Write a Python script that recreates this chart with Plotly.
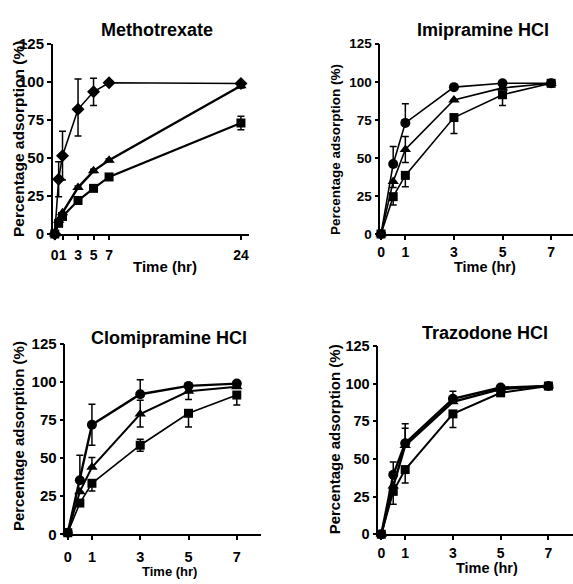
import plotly.graph_objects as go

W, H = 573, 584

# ---------------- data ----------------
t_mtx = [0, 0.5, 1, 3, 5, 7, 24]
mtx_diamond = [0, 36, 51.5, 82, 93.5, 99.5, 99]
mtx_diamond_up = [0, 11.5, 16, 20, 9, 0, 1]
mtx_diamond_dn = [0, 11.5, 16, 17.5, 9, 0, 1]
mtx_triangle = [0, 9, 14, 30.5, 41.5, 48.5, 97.5]
mtx_triangle_up = [0, 0, 0, 1, 1, 1, 1.5]
mtx_triangle_dn = [0, 0, 0, 1, 1, 1, 1.5]
mtx_square = [0, 7, 11.5, 22, 30, 37.5, 73]
mtx_square_up = [0, 0, 0, 0, 0, 0, 4.5]
mtx_square_dn = [0, 0, 0, 0, 0, 0, 4.5]

t_std = [0, 0.5, 1, 3, 5, 7]

imi_circle = [0, 46, 73, 96.5, 99, 99]
imi_circle_up = [0, 11.5, 12.5, 0, 0, 0]
imi_circle_dn = [0, 0, 0, 0, 0, 0]
imi_triangle = [0, 34.5, 55.5, 88, 96, 99]
imi_triangle_up = [0, 0, 8.5, 0, 0, 0]
imi_triangle_dn = [0, 4, 8.5, 0, 0, 0]
imi_square = [0, 24.5, 38.5, 76.5, 91.5, 99]
imi_square_up = [0, 0, 0, 0, 0, 0]
imi_square_dn = [0, 5.5, 7.5, 10.5, 7, 0]

clo_circle = [1, 35.5, 72, 92, 97.5, 99]
clo_circle_up = [0, 16.5, 13.5, 9.5, 0, 0]
clo_circle_dn = [0, 0, 13.5, 0, 0, 0]
clo_triangle = [1, 28, 44, 79, 94, 97]
clo_triangle_up = [0, 0, 6.5, 9, 0, 0]
clo_triangle_dn = [0, 0, 0, 8.5, 5.5, 0]
clo_square = [1, 20.5, 33.5, 58.5, 79.5, 91.5]
clo_square_up = [0, 0, 0, 4, 0, 0]
clo_square_dn = [0, 0, 5, 4, 9, 6.5]

tra_circle = [0, 39.5, 60.5, 90, 97.5, 98.5]
tra_circle_up = [0, 8.5, 13, 5, 0, 0]
tra_circle_dn = [0, 0, 0, 0, 0, 0]
tra_triangle = [0, 32, 59, 88, 96.5, 98.5]
tra_triangle_up = [0, 0, 11.5, 0, 0, 0]
tra_triangle_dn = [0, 0, 0, 0, 0, 0]
tra_square = [0, 28.5, 43, 80, 94, 98.5]
tra_square_up = [0, 0, 0, 0, 0, 0]
tra_square_dn = [0, 8.5, 9, 9, 0, 0]

titles = ["Methotrexate", "Imipramine HCl", "Clomipramine HCl", "Trazodone HCl"]
y_ticks = [0, 25, 50, 75, 100, 125]
x_ticks_mtx = [0, 1, 3, 5, 7, 24]
x_ticks_std = [0, 1, 3, 5, 7]
y_title = "Percentage adsorption (%)"
x_title = "Time (hr)"

FONT = "Liberation Sans, Arial, sans-serif"

fig = go.Figure()


def add(x, y, up, dn, symbol, size, ax, lw=1.6):
    xa, ya = ax
    fig.add_trace(go.Scatter(
        x=x, y=y, mode="lines+markers",
        line=dict(color="black", width=lw),
        marker=dict(symbol=symbol, size=size, color="black"),
        error_y=dict(type="data", symmetric=False, array=up, arrayminus=dn,
                     color="black", thickness=1.5, width=3.5),
        xaxis=xa, yaxis=ya, cliponaxis=False, showlegend=False,
    ))


add(t_mtx, mtx_square, mtx_square_up, mtx_square_dn, "square", 9, ("x", "y"), 2.2)
add(t_mtx, mtx_triangle, mtx_triangle_up, mtx_triangle_dn, "triangle-up", 10, ("x", "y"), 2.4)
add(t_mtx, mtx_diamond, mtx_diamond_up, mtx_diamond_dn, "diamond", 10, ("x", "y"), 1.6)

add(t_std, imi_square, imi_square_up, imi_square_dn, "square", 9, ("x2", "y2"))
add(t_std, imi_triangle, imi_triangle_up, imi_triangle_dn, "triangle-up", 10, ("x2", "y2"))
add(t_std, imi_circle, imi_circle_up, imi_circle_dn, "circle", 10, ("x2", "y2"))

add(t_std, clo_square, clo_square_up, clo_square_dn, "square", 9, ("x3", "y3"))
add(t_std, clo_triangle, clo_triangle_up, clo_triangle_dn, "triangle-up", 10, ("x3", "y3"), 2.0)
add(t_std, clo_circle, clo_circle_up, clo_circle_dn, "circle", 10, ("x3", "y3"), 2.4)

add(t_std, tra_square, tra_square_up, tra_square_dn, "square", 9, ("x4", "y4"), 2.0)
add(t_std, tra_triangle, tra_triangle_up, tra_triangle_dn, "triangle-up", 10, ("x4", "y4"), 2.4)
add(t_std, tra_circle, tra_circle_up, tra_circle_dn, "circle", 10, ("x4", "y4"), 2.4)


def xpx(px):
    return px / W


def ypx(py):
    return 1 - py / H


axis_common = dict(showline=True, linecolor="black", linewidth=1.5, ticks="outside",
                   ticklen=4, tickwidth=1.5, tickcolor="black", showgrid=False,
                   zeroline=False)


def xaxis(domain, rng, ticks, anchor, fs=14, standoff=3):
    return dict(domain=domain, range=rng, tickmode="array", tickvals=ticks,
                ticktext=[str(v) for v in ticks], anchor=anchor, tickangle=0,
                ticklabelstandoff=standoff,
                tickfont=dict(family=FONT, size=fs, color="black", weight="bold"),
                **axis_common)


def yaxis(domain, anchor, fs=15):
    return dict(domain=domain, range=[0, 125], tickmode="array", tickvals=y_ticks,
                ticktext=[str(v) for v in y_ticks], anchor=anchor,
                tickfont=dict(family=FONT, size=fs, color="black", weight="bold"),
                **axis_common)


fig.update_layout(
    width=W, height=H,
    margin=dict(l=0, r=0, t=0, b=0),
    paper_bgcolor="white", plot_bgcolor="white",
    font=dict(family=FONT, color="black"),
    xaxis=xaxis([xpx(50), xpx(247)], [-0.26, 25.0], x_ticks_mtx, "y", 14, 3),
    yaxis=yaxis([ypx(231.7), ypx(36)], "x", 15),
    xaxis2=xaxis([xpx(379.3), 1.0], [-0.03, 7.9], x_ticks_std, "y2", 14, 0),
    yaxis2=yaxis([ypx(231.7), ypx(35.8)], "x2", 13.5),
    xaxis3=xaxis([xpx(62.7), xpx(259.3)], [-0.1, 8.0], x_ticks_std, "y3", 14.5, 5),
    yaxis3=yaxis([ypx(541), ypx(345.1)], "x3", 15),
    xaxis4=xaxis([xpx(377.3), 1.0], [-0.125, 8.03], x_ticks_std, "y4", 14, 1),
    yaxis4=yaxis([ypx(541), ypx(347.3)], "x4", 14.5),
)

ann = []


def text(s, px, py, size, angle=0):
    ann.append(dict(text="<b>" + s + "</b>", x=xpx(px), y=ypx(py), xref="paper", yref="paper",
                    xanchor="center", yanchor="middle", showarrow=False, textangle=angle,
                    font=dict(family=FONT, size=size, color="black")))


# panel titles
text(titles[0], 155, 21.7, 18)
text(titles[1], 483, 21.7, 18)
text(titles[2], 167, 339, 18)
text(titles[3], 485, 333.3, 18)
# x titles
text(x_title, 163, 265, 15)
text(x_title, 485, 266, 14.5)
text(x_title, 167, 579, 13)
text(x_title, 487, 576, 14.5)
# y titles
text(y_title, 15, 134, 15.5, -90)
text(y_title, 335, 145, 13.5, -90)
text(y_title, 15, 440, 15, -90)
text(y_title, 333, 443, 15, -90)

fig.update_layout(annotations=ann)

fig.write_html(
    "out.html",
    config={"displayModeBar": False},
    post_script="document.body.style.margin='0';document.body.style.padding='0';"
                "document.body.style.overflow='hidden';",
)
